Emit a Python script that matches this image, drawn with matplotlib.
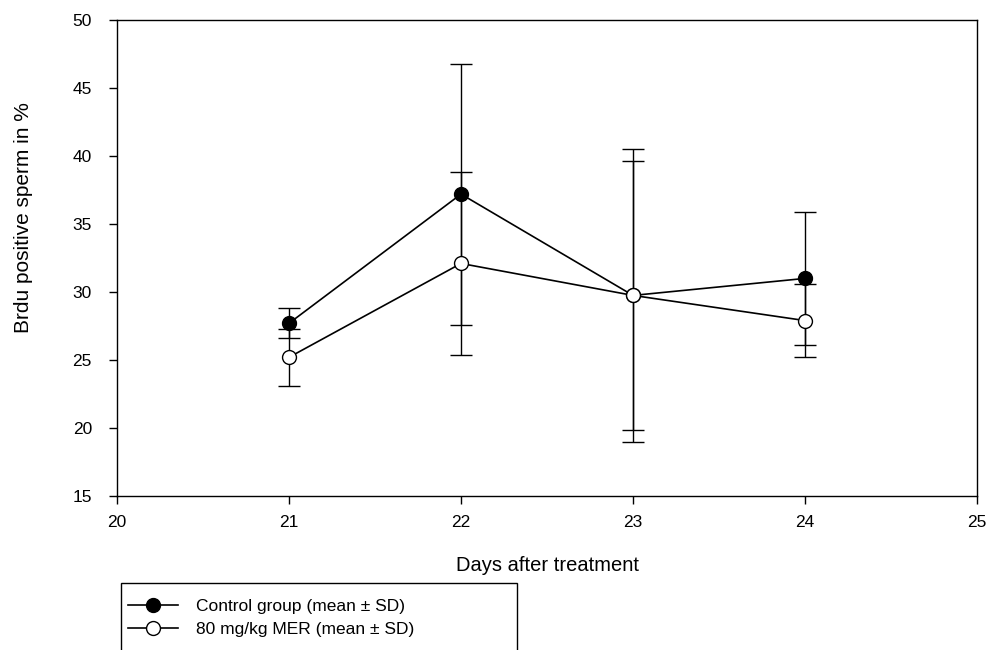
import matplotlib.pyplot as plt
import matplotlib.patches as mpatches

plt.rcParams['font.family'] = ['Liberation Sans', 'DejaVu Sans']

# ---------------------------------------------------------------------------
# Data
# ---------------------------------------------------------------------------
days = [21, 22, 23, 24]

control_mean = [27.7, 37.2, 29.75, 31.0]
control_sd = [1.1, 9.6, 10.75, 4.9]

mer_mean = [25.2, 32.1, 29.75, 27.9]
mer_sd = [2.1, 6.7, 9.9, 2.7]

x_ticks = [20, 21, 22, 23, 24, 25]
y_ticks = [15, 20, 25, 30, 35, 40, 45, 50]

# ---------------------------------------------------------------------------
# Figure
# ---------------------------------------------------------------------------
fig = plt.figure(figsize=(9.89, 6.5), dpi=100)
ax = fig.add_axes([0.1183, 0.2369, 0.8696, 0.7323])

err_kw = dict(ecolor='black', elinewidth=1.0, capsize=8, capthick=1.0,
              linestyle='none', zorder=2)
ax.errorbar(days, control_mean, yerr=control_sd, **err_kw)
ax.errorbar(days, mer_mean, yerr=mer_sd, **err_kw)

h_ctrl, = ax.plot(days, control_mean, color='black', lw=1.2,
                  marker='o', markersize=10, markerfacecolor='black',
                  markeredgecolor='black', zorder=3)
h_mer, = ax.plot(days, mer_mean, color='black', lw=1.2,
                 marker='o', markersize=10, markerfacecolor='white',
                 markeredgecolor='black', zorder=3)

ax.set_xlim(20, 25)
ax.set_ylim(15, 50)
ax.set_xticks(x_ticks)
ax.set_yticks(y_ticks)
ax.tick_params(direction='out', length=6, width=1, labelsize=12.5)
ax.tick_params(axis='x', pad=8)
ax.tick_params(axis='y', pad=12)
for s in ax.spines.values():
    s.set_linewidth(1)

ax.set_xlabel('Days after treatment', fontsize=14.5)
ax.xaxis.set_label_coords(0.5, -0.125)
ax.set_ylabel('Brdu positive sperm in %', fontsize=15)
ax.yaxis.set_label_coords(-0.098, 0.584)

# legend with a box running off the bottom edge
fig.patches.append(mpatches.Rectangle(
    (121 / 989, -0.05), (517 - 121) / 989, 0.05 + (650 - 583) / 650,
    transform=fig.transFigure, fill=False, edgecolor='black', lw=1))
fig.legend([h_ctrl, h_mer],
           ['Control group (mean \u00b1 SD)', '80 mg/kg MER (mean \u00b1 SD)'],
           loc='upper left', bbox_to_anchor=(128 / 989, 1 - 599 / 650),
           frameon=False, fontsize=12.5, handlelength=2.9, handletextpad=1.0,
           labelspacing=0.45, borderpad=0, borderaxespad=0)

fig.savefig('out.png', dpi=100)
